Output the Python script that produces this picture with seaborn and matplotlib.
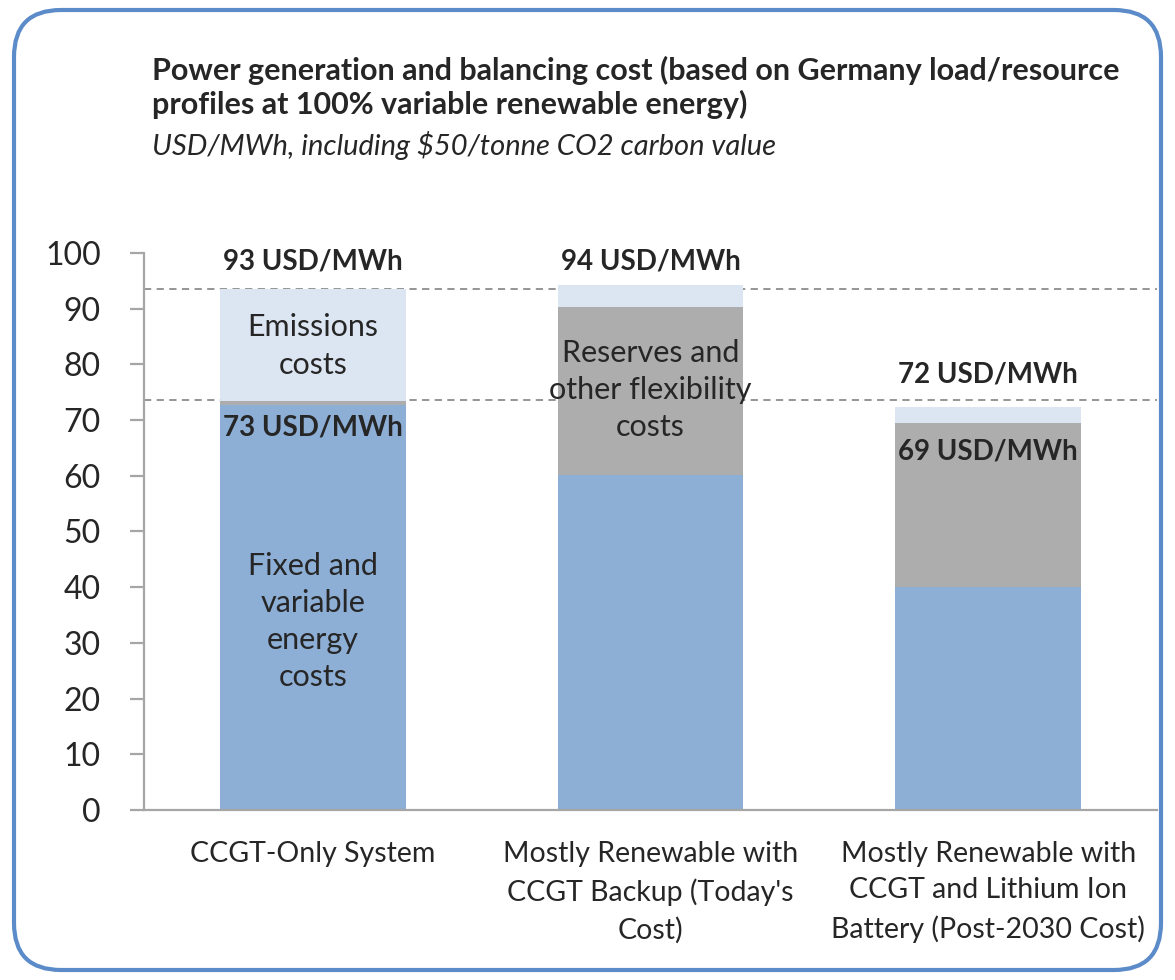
import pandas as pd
import seaborn as sns
import matplotlib.pyplot as plt
from matplotlib.patches import FancyBboxPatch

# values (USD/MWh)
scenarios = ["CCGT-Only System",
             "Mostly Renewable with\nCCGT Backup (Today's\nCost)",
             "Mostly Renewable with\nCCGT and Lithium Ion\nBattery (Post-2030 Cost)"]
fixed_costs = [72.7, 60.1, 40.0]
reserve_costs = [0.8, 30.2, 29.5]
emission_costs = [20.0, 4.0, 2.9]
total_labels = ["93 USD/MWh", "94 USD/MWh", "72 USD/MWh"]
ref_lines = [93.5, 73.6]

df = pd.DataFrame({"scenario": scenarios, "fixed": fixed_costs,
                   "reserves": reserve_costs, "emissions": emission_costs})
df["lvl_reserves"] = df["fixed"] + df["reserves"]
df["lvl_total"] = df["lvl_reserves"] + df["emissions"]

sns.set_theme(style="white")
plt.rcParams["font.family"] = ["Lato", "DejaVu Sans"]

fig = plt.figure(figsize=(11.75, 9.8), dpi=100)
ax = fig.add_axes([0.1226, 0.1735, 0.8621, 0.5684])

# stacked bars drawn back to front
bar_kw = dict(saturation=1, width=0.55, linewidth=0, ax=ax)
sns.barplot(data=df, x="scenario", y="lvl_total", color="#DCE6F2", **bar_kw)
sns.barplot(data=df, x="scenario", y="lvl_reserves", color="#ADADAD", **bar_kw)
sns.barplot(data=df, x="scenario", y="fixed", color="#8DAED5", **bar_kw)

for yv in ref_lines:
    ax.axhline(yv, color="#8C8C8C", lw=1.3, ls=(0, (4, 3)), zorder=0.5)

ax.set_ylim(0, 100)
ax.set_xlim(-0.5, 2.5)
ax.set_yticks(range(0, 101, 10))
ax.set_xlabel("")
ax.set_ylabel("")
for s in ["top", "right"]:
    ax.spines[s].set_visible(False)
for s in ["left", "bottom"]:
    ax.spines[s].set_color("#A6A6A6")
    ax.spines[s].set_linewidth(1.6)
ax.tick_params(axis="y", length=10, width=1.6, color="#A6A6A6", labelsize=23, pad=21, left=True)
ax.tick_params(axis="x", length=0, labelsize=20.5, pad=22)
for t in ax.get_xticklabels():
    t.set_linespacing(1.52)

# value labels
bold = dict(ha="center", va="center", fontsize=20, fontweight="bold")
ax.text(0, 98.4, total_labels[0], **bold)
ax.text(0, 68.6, "73 USD/MWh", **bold)
ax.text(1, 98.4, total_labels[1], **bold)
ax.text(2, 78.1, total_labels[2], **bold)
ax.text(2, 64.3, "69 USD/MWh", **bold)

# segment labels
seg = dict(ha="center", va="center", fontsize=22, linespacing=1.4)
ax.text(0, 83.3, "Emissions\ncosts", **seg)
ax.text(1, 75.4, "Reserves and\nother flexibility\ncosts", **seg)
ax.text(0, 33.8, "Fixed and\nvariable\nenergy\ncosts", **seg)

fig.text(152 / 1175, 1 - 56 / 980, "Power generation and balancing cost (based on Germany load/resource\nprofiles at 100% variable renewable energy)",
         ha="left", va="top", fontsize=22, fontweight="bold", linespacing=1.2)
fig.text(152 / 1175, 1 - 145 / 980, "USD/MWh, including $50/tonne CO2 carbon value",
         ha="left", va="center", fontsize=21, style="italic")

# rounded frame around the chart
frame = FancyBboxPatch((14 / 1175, 10 / 980), 1 - 28 / 1175, 1 - 20 / 980,
                       boxstyle="round,pad=0,rounding_size=0.04", transform=fig.transFigure,
                       fill=False, edgecolor="#5B8BC8", lw=3, mutation_aspect=1175 / 980)
fig.patches.append(frame)

fig.savefig("out.png", dpi=100)
